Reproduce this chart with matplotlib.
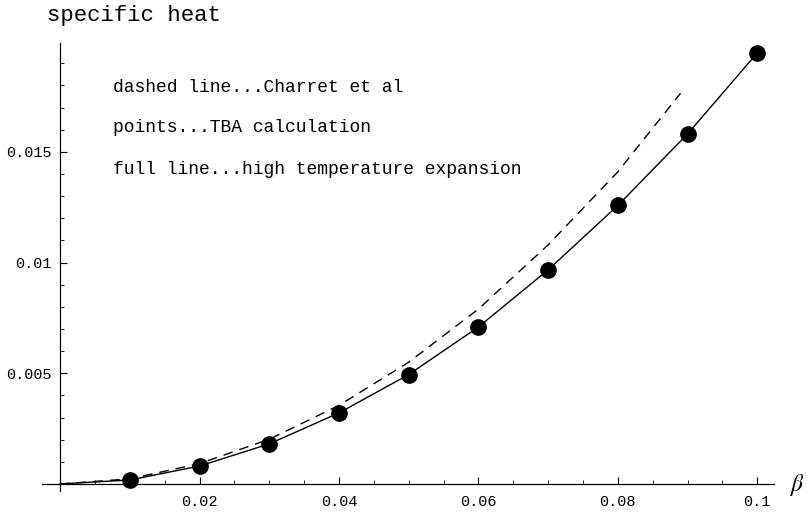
import matplotlib.pyplot as plt
from matplotlib.ticker import MultipleLocator, FixedLocator

# ---- data ----
beta = [0.0, 0.01, 0.02, 0.03, 0.04, 0.05, 0.06, 0.07, 0.08, 0.09, 0.1]
tba = [0.0, 0.00018, 0.00081, 0.00181, 0.00321, 0.00494, 0.00709, 0.00967, 0.01258, 0.01581, 0.01947]
beta_ch = [0.0, 0.01, 0.02, 0.03, 0.04, 0.05, 0.06, 0.07, 0.08, 0.089]
charret = [0.0, 0.00023, 0.00092, 0.00202, 0.00355, 0.0055, 0.0079, 0.0108, 0.0141, 0.01765]

xticks = [0.02, 0.04, 0.06, 0.08, 0.1]
xtick_labels = ['0.02', '0.04', '0.06', '0.08', '0.1']
yticks = [0.005, 0.01, 0.015]
ytick_labels = ['0.005', '0.01', '0.015']

notes = ['dashed line...Charret et al',
         'points...TBA calculation',
         'full line...high temperature expansion']

plt.rcParams['mathtext.fontset'] = 'stix'

W, H = 807, 512
fig = plt.figure(figsize=(W / 100, H / 100), dpi=100)
# axes box in pixels: x 42..774, y 43.4..490.6
ax = fig.add_axes([42 / W, (H - 490.6) / H, (774 - 42) / W, (490.6 - 43.4) / H])
ax.set_xlim(-0.0026, 0.1024)
ax.set_ylim(-0.0003, 0.0199)

mono = 'Liberation Mono'

ax.plot(beta, tba, color='black', lw=1.0)
ax.plot(beta_ch, charret, color='black', lw=1.0, dashes=(7, 5))
ax.plot(beta[1:], tba[1:], 'o', color='black', markersize=11, zorder=5)

# Mathematica-style axes through the origin
for s in ['top', 'right']:
    ax.spines[s].set_visible(False)
ax.spines['left'].set_position(('data', 0))
ax.spines['bottom'].set_position(('data', 0))
for s in ['left', 'bottom']:
    ax.spines[s].set_linewidth(0.9)

ax.xaxis.set_major_locator(FixedLocator(xticks))
ax.set_xticklabels(xtick_labels)
ax.yaxis.set_major_locator(FixedLocator(yticks))
ax.set_yticklabels(ytick_labels)
ax.xaxis.set_minor_locator(MultipleLocator(0.005))
ax.yaxis.set_minor_locator(MultipleLocator(0.001))
ax.tick_params(which='major', direction='in', length=5, width=0.8)
ax.tick_params(which='minor', direction='in', length=3, width=0.6)
for lab in ax.get_xticklabels() + ax.get_yticklabels():
    lab.set_fontfamily(mono)
    lab.set_fontsize(11)
ax.tick_params(axis='x', pad=8)
ax.tick_params(axis='y', pad=6)

fig.text(47 / W, 1 - 15 / H, 'specific heat', fontfamily=mono, fontsize=16,
         ha='left', va='center')
fig.text(798 / W, 1 - 485 / H, r'$\beta$', fontsize=17, ha='center', va='center')

for i, t in enumerate(notes):
    fig.text(113 / W, 1 - (87 + 41 * i) / H, t, fontfamily=mono, fontsize=13,
             ha='left', va='center')

plt.savefig('out.png', dpi=100)
